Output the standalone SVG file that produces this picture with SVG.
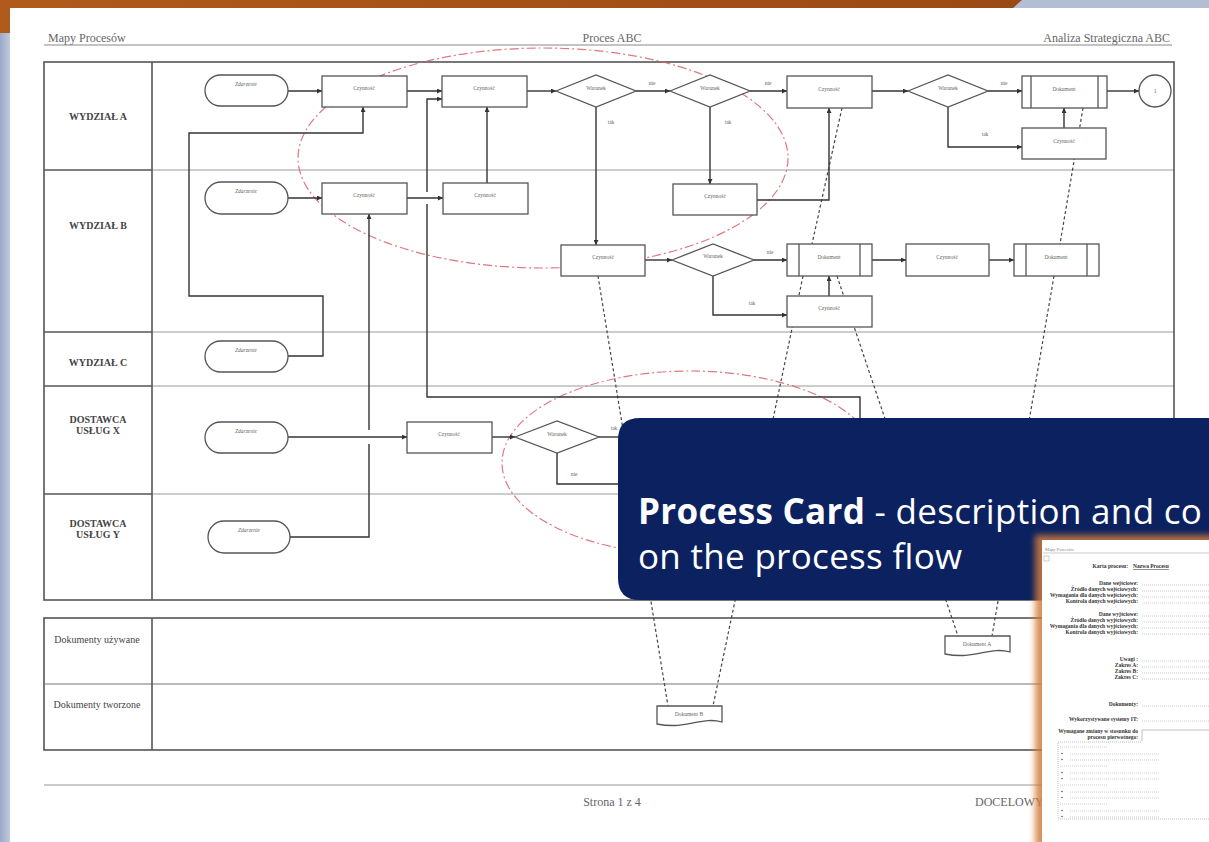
<svg xmlns="http://www.w3.org/2000/svg" width="1209" height="842" viewBox="0 0 1209 842">
<defs>
<style>
.box{fill:#fff;stroke:#555;stroke-width:1.3}
.t{font-family:"Liberation Serif",serif;font-size:5.5px;fill:#666;text-anchor:middle}
.ti{font-style:italic}
.c{fill:none;stroke:#333;stroke-width:1.4}
.arr{marker-end:url(#ah)}
.dash{fill:none;stroke:#444;stroke-width:1.2;stroke-dasharray:3 2.5}
.ell{fill:none;stroke:#d8606a;stroke-width:1.2;stroke-dasharray:9 3 2 3;opacity:.85}
.lane{stroke:#9a9a9a;stroke-width:1}
.frame{fill:none;stroke:#555;stroke-width:1.6}
.lbl{font-family:"Liberation Serif",serif;font-weight:bold;font-size:10px;fill:#444;text-anchor:middle}
.lbn{font-family:"Liberation Serif",serif;font-size:10px;fill:#444;text-anchor:middle}
.hdr{font-family:"Liberation Serif",serif;font-size:12px;fill:#666}
.ct{font-family:"Liberation Serif",serif;font-size:5.5px;font-weight:bold;fill:#333;text-anchor:end}
.dot{stroke:#999;stroke-width:.6;stroke-dasharray:.8 1.2}
.big{font-family:"Open Sans",sans-serif;font-size:35px;letter-spacing:.3px;fill:#fff}
</style>
<marker id="ah" viewBox="0 0 6 6" refX="6" refY="3" markerWidth="5" markerHeight="5" orient="auto" markerUnits="userSpaceOnUse"><path d="M0,0 L6,3 L0,6 z" fill="#333"/></marker>
<linearGradient id="og" x1="0" y1="0" x2="1" y2="0"><stop offset="0" stop-color="#b05a1b"/><stop offset="1" stop-color="#9a4a14"/></linearGradient>
<linearGradient id="lg" x1="0" y1="0" x2="1" y2="0"><stop offset="0" stop-color="#9aa8c6"/><stop offset="1" stop-color="#c0cadf"/></linearGradient>
<filter id="blur" x="-20%" y="-20%" width="140%" height="140%"><feGaussianBlur stdDeviation="3"/></filter>
</defs>

<g id="background">
<rect x="0" y="0" width="1209" height="842" fill="#fff"/>
<rect x="0" y="0" width="10" height="842" fill="url(#lg)"/>
<rect x="1010" y="0" width="199" height="8" fill="#b3bed5"/>
<path d="M0,0 H1022 L1013,8 H10 V33 H0 Z" fill="url(#og)"/>
</g>

<g id="header">
<text class="hdr" x="48" y="42">Mapy Procesów</text>
<text class="hdr" x="612" y="42" text-anchor="middle">Proces ABC</text>
<text class="hdr" x="1170" y="42" text-anchor="end">Analiza Strategiczna ABC</text>
<line x1="44" y1="45" x2="1172" y2="45" stroke="#888" stroke-width="1"/>
</g>

<g id="lanes">
<line class="lane" x1="152" y1="170" x2="1174" y2="170"/>
<line class="lane" x1="152" y1="332" x2="1174" y2="332"/>
<line class="lane" x1="152" y1="386" x2="1174" y2="386"/>
<line class="lane" x1="152" y1="494" x2="1174" y2="494"/>
<line x1="44" y1="170" x2="152" y2="170" stroke="#555" stroke-width="1.3"/>
<line x1="44" y1="332" x2="152" y2="332" stroke="#555" stroke-width="1.3"/>
<line x1="44" y1="386" x2="152" y2="386" stroke="#555" stroke-width="1.3"/>
<line x1="44" y1="494" x2="152" y2="494" stroke="#555" stroke-width="1.3"/>
<rect class="frame" x="44" y="62" width="1130" height="538"/>
<line x1="152" y1="62" x2="152" y2="600" stroke="#555" stroke-width="1.6"/>
<text class="lbl" x="98" y="120">WYDZIAŁ A</text>
<text class="lbl" x="98" y="229">WYDZIAŁ B</text>
<text class="lbl" x="98" y="366">WYDZIAŁ C</text>
<text class="lbl" x="98" y="423">DOSTAWCA</text>
<text class="lbl" x="98" y="434">USŁUG X</text>
<text class="lbl" x="98" y="527">DOSTAWCA</text>
<text class="lbl" x="98" y="538">USŁUG Y</text>
</g>

<g id="docs-table">
<rect class="frame" x="44" y="618" width="1130" height="132"/>
<line x1="44" y1="684" x2="1174" y2="684" stroke="#777" stroke-width="1"/>
<line x1="152" y1="618" x2="152" y2="750" stroke="#555" stroke-width="1.6"/>
<text class="lbn" x="97" y="643">Dokumenty używane</text>
<text class="lbn" x="97" y="708">Dokumenty tworzone</text>
</g>

<g id="groups">
<ellipse class="ell" cx="543" cy="158" rx="245" ry="110"/>
<ellipse class="ell" cx="690" cy="463" rx="188" ry="92"/>
</g>

<g id="connectors">
<path class="dash" d="M842,108 L812,244"/>
<path class="dash" d="M1083,108 L1060,244"/>
<path class="dash" d="M598,276 L668,706"/>
<path class="dash" d="M803,276 L713,706"/>
<path class="dash" d="M837,276 L958,636"/>
<path class="dash" d="M1054,276 L992,636"/>

<path class="c arr" d="M288,91 H322"/>
<path class="c arr" d="M407,91 H442"/>
<path class="c arr" d="M527,91 H556"/>
<path class="c arr" d="M636,91 H670"/>
<path class="c arr" d="M750,91 H787"/>
<path class="c arr" d="M872,91 H908"/>
<path class="c arr" d="M988,91 H1022"/>
<path class="c arr" d="M1107,91 H1139"/>
<path class="c arr" d="M596,107 V245"/>
<path class="c arr" d="M710,107 V184"/>
<path class="c arr" d="M757,200 H829 V108"/>
<path class="c arr" d="M948,107 V147 H1022"/>
<path class="c arr" d="M1064,128 V108"/>
<path class="c arr" d="M288,198 H322"/>
<path class="c arr" d="M407,198 H443"/>
<path class="c arr" d="M487,183 V107"/>
<path class="c arr" d="M288,356 H323 V296 H189 V133 H363 V107"/>
<path class="c" d="M290,537 H369 V444"/>
<path class="c arr" d="M369,430 V214"/>
<path class="c" d="M860,425 V397 H427 V204"/>
<path class="c arr" d="M427,192 V99 H442"/>
<path class="c arr" d="M288,437 H407"/>
<path class="c arr" d="M492,437 H515"/>
<path class="c" d="M599,437 H630"/>
<path class="c" d="M557,453 V484 H630"/>
<path class="c arr" d="M645,260 H672"/>
<path class="c arr" d="M754,260 H787"/>
<path class="c arr" d="M872,260 H906"/>
<path class="c arr" d="M989,260 H1014"/>
<path class="c arr" d="M713,276 V315 H787"/>
<path class="c arr" d="M829,296 V276"/>

<text class="t" x="652" y="85">nie</text>
<text class="t" x="768" y="85">nie</text>
<text class="t" x="1004" y="85">nie</text>
<text class="t" x="611" y="124">tak</text>
<text class="t" x="728" y="124">tak</text>
<text class="t" x="985" y="136">tak</text>
<text class="t" x="770" y="254">nie</text>
<text class="t" x="752" y="305">tak</text>
<text class="t" x="614" y="430">tak</text>
<text class="t" x="574" y="476">nie</text>
</g>

<g id="zA"><rect class="box" x="205" y="75" width="83" height="31" rx="15.5"/><text class="t ti" x="246" y="86">Zdarzenie</text></g>
<g id="cA1"><rect class="box" x="322" y="76" width="85" height="31"/><text class="t" x="364" y="90">Czynność</text></g>
<g id="cA2"><rect class="box" x="442" y="76" width="85" height="31"/><text class="t" x="484" y="90">Czynność</text></g>
<g id="dA1"><path class="box" d="M556,91 L596,75 L636,91 L596,107 Z"/><text class="t" x="596" y="90">Warunek</text></g>
<g id="dA2"><path class="box" d="M670,91 L710,75 L750,91 L710,107 Z"/><text class="t" x="710" y="90">Warunek</text></g>
<g id="cA3"><rect class="box" x="787" y="76" width="85" height="32"/><text class="t" x="829" y="91">Czynność</text></g>
<g id="dA3"><path class="box" d="M908,91 L948,75 L988,91 L948,107 Z"/><text class="t" x="948" y="90">Warunek</text></g>
<g id="docA"><rect class="box" x="1022" y="76" width="85" height="32"/><line x1="1031" y1="76" x2="1031" y2="108" stroke="#555" stroke-width="1.3"/><line x1="1098" y1="76" x2="1098" y2="108" stroke="#555" stroke-width="1.3"/><text class="t" x="1064" y="91">Dokument</text></g>
<g id="end1"><circle class="box" cx="1155" cy="91" r="16"/><text class="t" x="1155" y="93">1</text></g>
<g id="cA4"><rect class="box" x="1022" y="128" width="84" height="31"/><text class="t" x="1064" y="143">Czynność</text></g>

<g id="zB"><rect class="box" x="205" y="182" width="83" height="32" rx="16"/><text class="t ti" x="246" y="193">Zdarzenie</text></g>
<g id="cB1"><rect class="box" x="322" y="183" width="85" height="31"/><text class="t" x="364" y="197">Czynność</text></g>
<g id="cB2"><rect class="box" x="443" y="183" width="85" height="31"/><text class="t" x="485" y="197">Czynność</text></g>
<g id="cB3"><rect class="box" x="673" y="184" width="84" height="31"/><text class="t" x="715" y="198">Czynność</text></g>
<g id="cB4"><rect class="box" x="561" y="245" width="84" height="31"/><text class="t" x="603" y="259">Czynność</text></g>
<g id="dB1"><path class="box" d="M672,260 L713,244 L754,260 L713,276 Z"/><text class="t" x="713" y="258">Warunek</text></g>
<g id="docB1"><rect class="box" x="787" y="244" width="85" height="32"/><line x1="799" y1="244" x2="799" y2="276" stroke="#555" stroke-width="1.3"/><line x1="860" y1="244" x2="860" y2="276" stroke="#555" stroke-width="1.3"/><text class="t" x="829" y="259">Dokument</text></g>
<g id="cB5"><rect class="box" x="906" y="244" width="83" height="32"/><text class="t" x="947" y="259">Czynność</text></g>
<g id="docB2"><rect class="box" x="1014" y="244" width="85" height="32"/><line x1="1026" y1="244" x2="1026" y2="276" stroke="#555" stroke-width="1.3"/><line x1="1087" y1="244" x2="1087" y2="276" stroke="#555" stroke-width="1.3"/><text class="t" x="1056" y="259">Dokument</text></g>
<g id="cB6"><rect class="box" x="787" y="296" width="85" height="31"/><text class="t" x="829" y="310">Czynność</text></g>

<g id="zC"><rect class="box" x="205" y="341" width="83" height="31" rx="15.5"/><text class="t ti" x="246" y="352">Zdarzenie</text></g>
<g id="zX"><rect class="box" x="205" y="422" width="83" height="31" rx="15.5"/><text class="t ti" x="246" y="433">Zdarzenie</text></g>
<g id="cX1"><rect class="box" x="407" y="422" width="85" height="31"/><text class="t" x="449" y="436">Czynność</text></g>
<g id="dX1"><path class="box" d="M515,437 L557,421 L599,437 L557,453 Z"/><text class="t" x="557" y="436">Warunek</text></g>
<g id="zY"><rect class="box" x="208" y="521" width="82" height="32" rx="16"/><text class="t ti" x="249" y="532">Zdarzenie</text></g>

<g id="dokA"><path class="box" d="M945,636 H1010 V652 C990,646 975,660 945,654 Z"/><text class="t" x="977" y="646">Dokument A</text></g>
<g id="dokB"><path class="box" d="M657,706 H722 V722 C702,716 687,730 657,724 Z"/><text class="t" x="689" y="716">Dokument B</text></g>

<g id="footer">
<line x1="44" y1="785" x2="1172" y2="785" stroke="#999" stroke-width="1"/>
<text class="hdr" x="612" y="806" text-anchor="middle">Strona 1 z 4</text>
<text class="hdr" x="975" y="806">DOCELOWY</text>
</g>

<g id="process-card-banner">
<path d="M640,418 H1209 V600 H640 Q618,600 618,578 V440 Q618,418 640,418 Z" fill="#0b2160"/>
<text class="big" x="638" y="524"><tspan font-weight="bold">Process Card</tspan> - description and co</text>
<text class="big" x="638" y="569">on the process flow</text>
</g>

<g id="card-thumbnail">
<rect x="1035" y="535" width="180" height="312" fill="#d27c3c" opacity=".85" filter="url(#blur)"/>
<rect x="1042" y="540" width="170" height="302" fill="#fff"/>
<text x="1045" y="551" font-family="Liberation Serif,serif" font-size="4.5" fill="#888">Mapy Procesów</text>
<line x1="1043" y1="553" x2="1209" y2="553" stroke="#aaa" stroke-width=".6"/>
<rect x="1044" y="556" width="5" height="5" fill="none" stroke="#aaa" stroke-width=".6"/>
<text class="ct" x="1128" y="568">Karta procesu:</text>
<text x="1133" y="568" font-family="Liberation Serif,serif" font-size="5.5" font-weight="bold" fill="#333" text-decoration="underline">Nazwa Procesu</text>
<text class="ct" x="1138" y="585">Dane wejściowe:</text>
<text class="ct" x="1138" y="591">Źródło danych wejściowych:</text>
<text class="ct" x="1138" y="597">Wymagania dla danych wejściowych:</text>
<text class="ct" x="1138" y="603">Kontrola danych wejściowych:</text>
<text class="ct" x="1138" y="616">Dane wyjściowe:</text>
<text class="ct" x="1138" y="622">Źródło danych wyjściowych:</text>
<text class="ct" x="1138" y="628">Wymagania dla danych wyjściowych:</text>
<text class="ct" x="1138" y="634">Kontrola danych wyjściowych:</text>
<text class="ct" x="1138" y="661">Uwagi :</text>
<text class="ct" x="1138" y="667">Zakres A:</text>
<text class="ct" x="1138" y="673">Zakres B:</text>
<text class="ct" x="1138" y="679">Zakres C:</text>
<text class="ct" x="1138" y="706">Dokumenty:</text>
<text class="ct" x="1138" y="721">Wykorzystywane systemy IT:</text>
<text class="ct" x="1138" y="733">Wymagane zmiany w stosunku do</text>
<text class="ct" x="1138" y="739">procesu pierwotnego:</text>
<g class="dot">
<line x1="1142" y1="585" x2="1209" y2="585"/><line x1="1142" y1="591" x2="1209" y2="591"/><line x1="1142" y1="597" x2="1209" y2="597"/><line x1="1142" y1="603" x2="1209" y2="603"/>
<line x1="1142" y1="616" x2="1209" y2="616"/><line x1="1142" y1="622" x2="1209" y2="622"/><line x1="1142" y1="628" x2="1209" y2="628"/><line x1="1142" y1="634" x2="1209" y2="634"/>
<line x1="1142" y1="661" x2="1209" y2="661"/><line x1="1142" y1="667" x2="1209" y2="667"/><line x1="1142" y1="673" x2="1209" y2="673"/><line x1="1142" y1="679" x2="1209" y2="679"/>
<line x1="1142" y1="706" x2="1209" y2="706"/><line x1="1142" y1="721" x2="1209" y2="721"/>
<line x1="1060" y1="747" x2="1108" y2="747"/><line x1="1070" y1="754" x2="1160" y2="754"/><line x1="1070" y1="760" x2="1160" y2="760"/>
<line x1="1060" y1="766" x2="1108" y2="766"/><line x1="1070" y1="773" x2="1160" y2="773"/><line x1="1070" y1="779" x2="1160" y2="779"/>
<line x1="1060" y1="785" x2="1108" y2="785"/><line x1="1070" y1="792" x2="1160" y2="792"/><line x1="1070" y1="798" x2="1160" y2="798"/>
<line x1="1060" y1="804" x2="1108" y2="804"/><line x1="1070" y1="811" x2="1160" y2="811"/><line x1="1070" y1="817" x2="1160" y2="817"/>
</g>
<path d="M1142,741 V730 H1209" fill="none" stroke="#999" stroke-width=".6"/>
<path d="M1209,819 H1058 V742 H1142" fill="none" stroke="#999" stroke-width=".6" stroke-dasharray="1 1"/>
<g fill="#555">
<circle cx="1062" cy="753.5" r=".8"/><circle cx="1062" cy="759.5" r=".8"/>
<circle cx="1062" cy="772.5" r=".8"/><circle cx="1062" cy="778.5" r=".8"/>
<circle cx="1062" cy="791.5" r=".8"/><circle cx="1062" cy="797.5" r=".8"/>
<circle cx="1062" cy="810.5" r=".8"/><circle cx="1062" cy="816.5" r=".8"/>
</g>
</g>
</svg>
